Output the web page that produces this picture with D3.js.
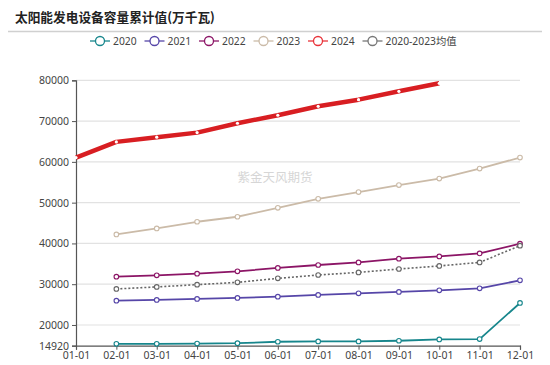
<!DOCTYPE html>
<html><head><meta charset="utf-8">
<script src="https://cdn.jsdelivr.net/npm/d3@7"></script>
<style>body{margin:0;background:#fff}svg{display:block}</style>
</head><body>
<script>
const months = ["01-01","02-01","03-01","04-01","05-01","06-01","07-01","08-01","09-01","10-01","11-01","12-01"];
const yTicks = [14920,20000,30000,40000,50000,60000,70000,80000];
const s2020 = [null,15370,15370,15450,15530,15890,15970,15970,16130,16460,16540,25400];
const s2021 = [null,25970,26140,26390,26630,26950,27370,27760,28100,28500,28980,30940];
const s2022 = [null,31850,32170,32580,33150,33980,34710,35350,36250,36820,37550,39930];
const s2023 = [null,42200,43670,45310,46540,48740,50940,52580,54300,55910,58360,61050];
const s2024 = [61050,64900,66050,67170,69470,71430,73630,75250,77300,79270,null,null];
const sAvg  = [null,28840,29330,29890,30450,31430,32260,32900,33730,34470,35350,39440];
const seriesNames = ["2020","2021","2022","2023","2024","2020-2023均值"];
const seriesColors = ["#17868c","#5646a8","#8c1566","#cbbba8","#d81e22","#666666"];

const W=550,H=365;
const svg=d3.select("body").append("svg").attr("width",W).attr("height",H);
const font='"Noto Sans","Noto Sans CJK SC",sans-serif';

svg.append("text").attr("x",15).attr("y",22).text("太阳能发电设备容量累计值(万千瓦)")
  .attr("font-family",'"Noto Sans CJK SC",sans-serif').attr("font-weight","bold").attr("font-size",12.7).attr("fill","#222");
svg.append("line").attr("x1",8).attr("x2",542).attr("y1",31.5).attr("y2",31.5).attr("stroke","#d0d0d0").attr("stroke-width",1.5);

const x=d3.scalePoint().domain(months).range([76,520]);
const y=d3.scaleLinear().domain([14920,80000]).range([345.7,80.3]);

svg.append("g").selectAll("line").data(yTicks.filter(d=>d!==14920)).join("line")
  .attr("x1",76).attr("x2",520).attr("y1",d=>y(d)).attr("y2",d=>y(d))
  .attr("stroke","#e2e2e2").attr("stroke-width",1.2);

svg.append("text").attr("x",275).attr("y",182).attr("text-anchor","middle").text("紫金天风期货")
  .attr("font-family",'"Noto Sans CJK SC",sans-serif').attr("font-size",12.5).attr("fill","#d6d6d6");

const yAxis=d3.axisLeft(y).tickValues(yTicks).tickFormat(d=>String(d)).tickSize(4).tickPadding(3);
const gy=svg.append("g").attr("transform","translate(76,0)").call(yAxis);
gy.select(".domain").attr("stroke","#555").attr("stroke-width",1.2);
gy.selectAll(".tick line").attr("stroke","#555");
gy.selectAll("text").attr("font-family",font).attr("font-size",10.5).attr("fill","#444");

const xAxis=d3.axisBottom(x).tickSize(4).tickPadding(2);
const gx=svg.append("g").attr("transform","translate(0,345.7)").call(xAxis);
gx.select(".domain").attr("stroke","#555").attr("stroke-width",1.2);
gx.selectAll(".tick line").attr("stroke","#555");
gx.selectAll("text").attr("font-family",font).attr("font-size",10.5).attr("fill","#444");

const allSeries=[s2020,s2021,s2022,s2023,sAvg,s2024];
const idxMap=[0,1,2,3,5,4];
const line=d3.line().defined(d=>d.v!=null).x(d=>x(d.m)).y(d=>y(d.v));
allSeries.forEach((s,k)=>{
  const i=idxMap[k];
  const pts=s.map((v,j)=>({m:months[j],v}));
  const isRed=i===4, isAvg=i===5;
  svg.append("path").datum(pts).attr("d",line).attr("fill","none")
    .attr("stroke",seriesColors[i]).attr("stroke-width",isRed?4.5:(isAvg?1.6:1.8))
    .attr("stroke-dasharray",isAvg?"2,2":null).attr("stroke-linejoin","round");
  svg.append("g").selectAll("circle").data(pts.filter(d=>d.v!=null)).join("circle")
    .attr("cx",d=>x(d.m)).attr("cy",d=>y(d.v)).attr("r",isRed?1.6:2.3)
    .attr("fill","#fff").attr("stroke",isRed?"none":seriesColors[i]).attr("stroke-width",1.1);
});

const legX=[90,144.5,199,253.5,308,362.5];
const lg=svg.append("g");
seriesNames.forEach((n,i)=>{
  const g=lg.append("g").attr("transform",`translate(${legX[i]},41)`);
  const c=i===4?"#e8333a":(i===5?"#777":seriesColors[i]);
  g.append("line").attr("x1",0).attr("x2",20).attr("y1",0).attr("y2",0).attr("stroke",c).attr("stroke-width",1.3);
  g.append("circle").attr("cx",10).attr("cy",0).attr("r",4.5).attr("fill","#fff").attr("stroke",c).attr("stroke-width",1.3);
  g.append("text").attr("x",23).attr("y",4).text(n).attr("font-family",font).attr("font-size",10.3).attr("fill","#444");
});
</script>
</body></html>
